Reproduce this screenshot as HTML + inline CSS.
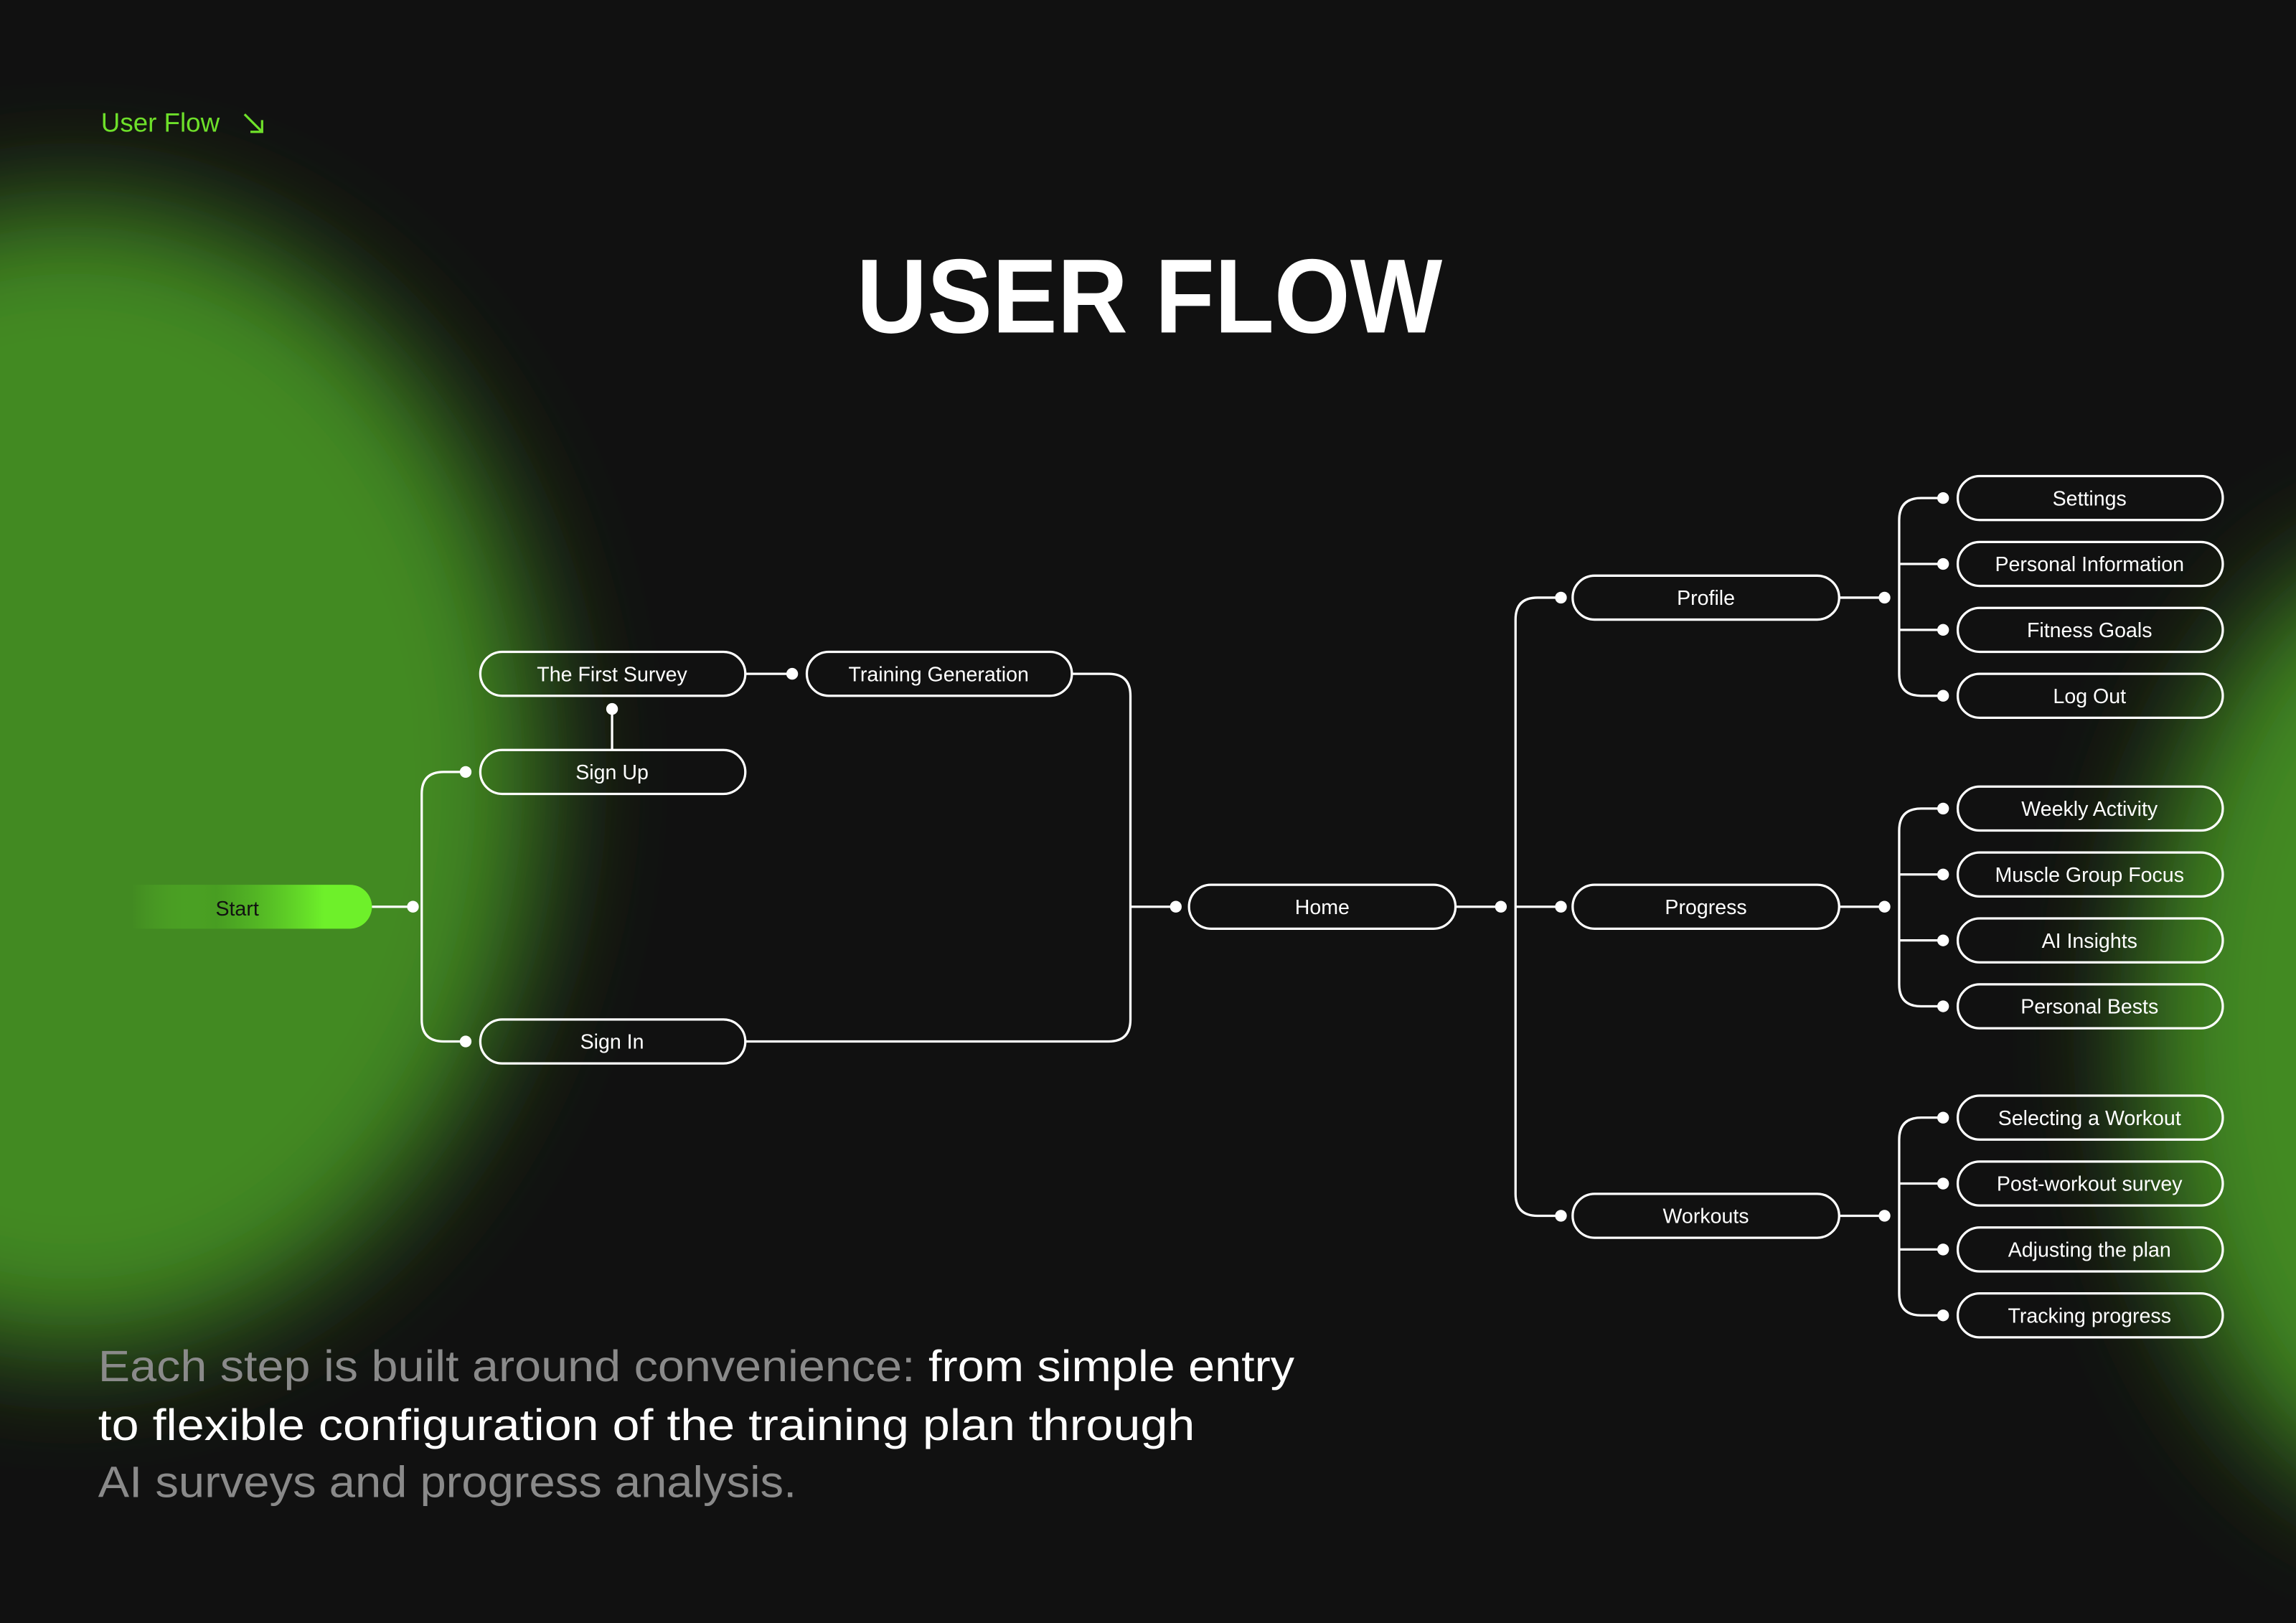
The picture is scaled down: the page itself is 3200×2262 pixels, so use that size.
<!DOCTYPE html>
<html><head><meta charset="utf-8"><style>
html,body{margin:0;padding:0;background:#111111;}
svg{display:block;}
text{font-family:"Liberation Sans",sans-serif;}
</style></head><body>
<svg width="3200" height="2262" viewBox="0 0 1568 1108" preserveAspectRatio="none" xmlns="http://www.w3.org/2000/svg">
<defs>
<filter id="b1" x="-50%" y="-50%" width="200%" height="200%"><feGaussianBlur stdDeviation="40"/></filter>
<linearGradient id="sg" x1="0" x2="1" y1="0" y2="0">
<stop offset="0" stop-color="#6ef02a" stop-opacity="0"/>
<stop offset="0.35" stop-color="#4caa22" stop-opacity="0.6"/>
<stop offset="0.8" stop-color="#6ef02a"/>
<stop offset="1" stop-color="#6ef02a"/>
</linearGradient>
</defs>
<rect width="1568" height="1108" fill="#111111"/>
<ellipse cx="50" cy="530" rx="320" ry="390" fill="#438a22" filter="url(#b1)"/>
<ellipse cx="1660" cy="700" rx="200" ry="330" fill="#438a22" filter="url(#b1)"/>

<text x="69" y="90" font-size="18" fill="#6ee02a">User Flow</text>
<path d="M167 78 L179 90 M179 82 L179 90 L171 90" stroke="#6ee02a" stroke-width="1.6" fill="none"/>
<text x="585" y="227" font-size="72" font-weight="bold" fill="#ffffff" textLength="400" lengthAdjust="spacingAndGlyphs">USER FLOW</text>

<g stroke="#ffffff" stroke-width="1.6" fill="none">
<path d="M254 619 H282"/>
<path d="M318 527 H303 Q288 527 288 542 V696 Q288 711 303 711 H318"/>
<path d="M418 484 V512"/>
<path d="M509 460 H541"/>
<path d="M732 460 H757 Q772 460 772 475 V696 Q772 711 757 711 H509"/>
<path d="M772 619 H803"/>
<path d="M994 619 H1025"/>
<path d="M1066 408 H1050 Q1035 408 1035 423 V815 Q1035 830 1050 830 H1066"/>
<path d="M1035 619 H1066"/>
<path d="M1256 408 H1287"/><path d="M1256 619 H1287"/><path d="M1256 830 H1287"/>
<path d="M1327 340 H1312 Q1297 340 1297 355 V460 Q1297 475 1312 475 H1327 M1297 385 H1327 M1297 430 H1327"/>
<path d="M1327 552 H1312 Q1297 552 1297 567 V672 Q1297 687 1312 687 H1327 M1297 597 H1327 M1297 642 H1327"/>
<path d="M1327 763 H1312 Q1297 763 1297 778 V883 Q1297 898 1312 898 H1327 M1297 808 H1327 M1297 853 H1327"/>
<rect x="328" y="445" width="181" height="30" rx="15"/>
<rect x="551" y="445" width="181" height="30" rx="15"/>
<rect x="328" y="512" width="181" height="30" rx="15"/>
<rect x="328" y="696" width="181" height="30" rx="15"/>
<rect x="812" y="604" width="182" height="30" rx="15"/>
<rect x="1074" y="393" width="182" height="30" rx="15"/>
<rect x="1074" y="604" width="182" height="30" rx="15"/>
<rect x="1074" y="815" width="182" height="30" rx="15"/>
<rect x="1337" y="325" width="181" height="30" rx="15"/>
<rect x="1337" y="370" width="181" height="30" rx="15"/>
<rect x="1337" y="415" width="181" height="30" rx="15"/>
<rect x="1337" y="460" width="181" height="30" rx="15"/>
<rect x="1337" y="537" width="181" height="30" rx="15"/>
<rect x="1337" y="582" width="181" height="30" rx="15"/>
<rect x="1337" y="627" width="181" height="30" rx="15"/>
<rect x="1337" y="672" width="181" height="30" rx="15"/>
<rect x="1337" y="748" width="181" height="30" rx="15"/>
<rect x="1337" y="793" width="181" height="30" rx="15"/>
<rect x="1337" y="838" width="181" height="30" rx="15"/>
<rect x="1337" y="883" width="181" height="30" rx="15"/>
</g>
<path d="M90 604 H239 A15 15 0 0 1 239 634 H90 Z" fill="url(#sg)"/>
<g fill="#ffffff">
<circle cx="282" cy="619" r="4"/><circle cx="318" cy="527" r="4"/><circle cx="318" cy="711" r="4"/>
<circle cx="418" cy="484" r="4"/><circle cx="541" cy="460" r="4"/><circle cx="803" cy="619" r="4"/>
<circle cx="1025" cy="619" r="4"/><circle cx="1066" cy="408" r="4"/><circle cx="1066" cy="619" r="4"/><circle cx="1066" cy="830" r="4"/>
<circle cx="1287" cy="408" r="4"/><circle cx="1287" cy="619" r="4"/><circle cx="1287" cy="830" r="4"/>
<circle cx="1327" cy="340" r="4"/><circle cx="1327" cy="385" r="4"/><circle cx="1327" cy="430" r="4"/><circle cx="1327" cy="475" r="4"/>
<circle cx="1327" cy="552" r="4"/><circle cx="1327" cy="597" r="4"/><circle cx="1327" cy="642" r="4"/><circle cx="1327" cy="687" r="4"/>
<circle cx="1327" cy="763" r="4"/><circle cx="1327" cy="808" r="4"/><circle cx="1327" cy="853" r="4"/><circle cx="1327" cy="898" r="4"/>
</g>
<g font-size="14" fill="#ffffff" text-anchor="middle">
<text x="162" y="625" fill="#111111">Start</text>
<text x="418" y="465">The First Survey</text>
<text x="641" y="465">Training Generation</text>
<text x="418" y="532">Sign Up</text>
<text x="418" y="716">Sign In</text>
<text x="903" y="624">Home</text>
<text x="1165" y="413">Profile</text>
<text x="1165" y="624">Progress</text>
<text x="1165" y="835">Workouts</text>
<text x="1427" y="345">Settings</text>
<text x="1427" y="390">Personal Information</text>
<text x="1427" y="435">Fitness Goals</text>
<text x="1427" y="480">Log Out</text>
<text x="1427" y="557">Weekly Activity</text>
<text x="1427" y="602">Muscle Group Focus</text>
<text x="1427" y="647">AI Insights</text>
<text x="1427" y="692">Personal Bests</text>
<text x="1427" y="768">Selecting a Workout</text>
<text x="1427" y="813">Post-workout survey</text>
<text x="1427" y="858">Adjusting the  plan</text>
<text x="1427" y="903">Tracking progress</text>
</g>
<g font-size="30">
<text x="67" y="943" fill="#8a8a8a" textLength="817" lengthAdjust="spacingAndGlyphs">Each step is built around convenience: <tspan fill="#ffffff">from simple entry</tspan></text>
<text x="67" y="983" fill="#ffffff" textLength="749" lengthAdjust="spacingAndGlyphs">to flexible configuration of the training plan through</text>
<text x="67" y="1022" fill="#8a8a8a" textLength="477" lengthAdjust="spacingAndGlyphs">AI surveys and progress analysis.</text>
</g>
</svg>
</body></html>
